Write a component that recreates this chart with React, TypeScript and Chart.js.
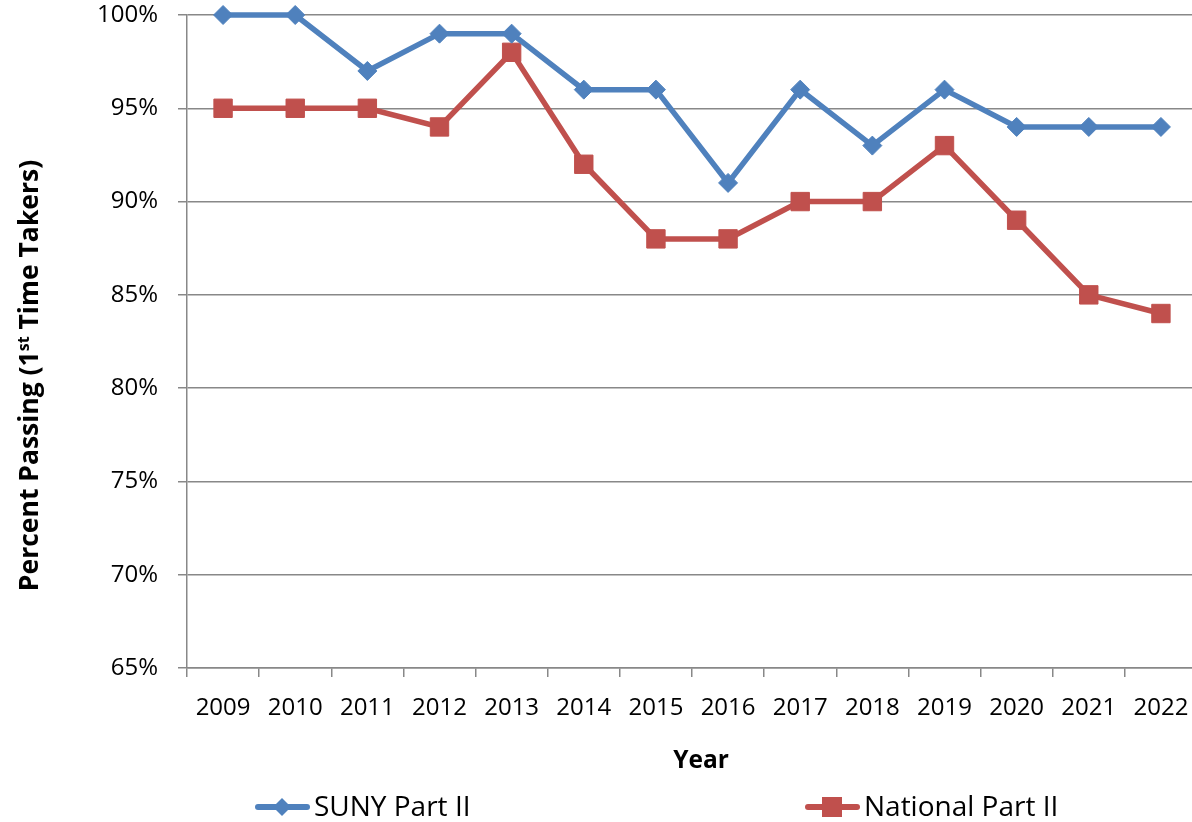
import React, { useEffect, useRef } from "react";
import { Chart, registerables } from "chart.js";

Chart.register(...registerables);

const years = ["2009", "2010", "2011", "2012", "2013", "2014", "2015", "2016", "2017", "2018", "2019", "2020", "2021", "2022"];
const sunyPartII = [100, 100, 97, 99, 99, 96, 96, 91, 96, 93, 96, 94, 94, 94];
const nationalPartII = [95, 95, 95, 94, 98, 92, 88, 88, 90, 90, 93, 89, 85, 84];
const yTicks = [65, 70, 75, 80, 85, 90, 95, 100];

const BLUE = "#4F81BD";
const RED = "#C0504D";
const GRID = "#888888";
const FONT = "'Open Sans', 'Noto Sans', sans-serif";

const overlayPlugin = {
  id: "overlay",
  afterDraw(chart: any) {
    const { ctx, chartArea } = chart;
    const cx = (chartArea.left + chartArea.right) / 2;
    const cy = (chartArea.top + chartArea.bottom) / 2;
    ctx.save();
    ctx.fillStyle = "#000";

    // X title
    ctx.font = `bold 24.5px ${FONT}`;
    ctx.textAlign = "center";
    ctx.textBaseline = "alphabetic";
    ctx.fillText("Year", cx + 9, chartArea.bottom + 100);

    // Y title with superscript
    const p1 = "Percent Passing (1";
    const sup = "st";
    const p2 = " Time Takers)";
    const big = `bold 26.5px ${FONT}`;
    const small = `bold 16px ${FONT}`;
    ctx.save();
    ctx.translate(38, cy + 34);
    ctx.rotate(-Math.PI / 2);
    ctx.textAlign = "left";
    ctx.font = big;
    const w1 = ctx.measureText(p1).width;
    const w3 = ctx.measureText(p2).width;
    ctx.font = small;
    const w2 = ctx.measureText(sup).width;
    const total = w1 + w2 + w3;
    let x = -total / 2;
    ctx.font = big;
    ctx.fillText(p1, x, 0);
    x += w1;
    ctx.font = small;
    ctx.fillText(sup, x, -9);
    x += w2;
    ctx.font = big;
    ctx.fillText(p2, x, 0);
    ctx.restore();

    // Legend
    const items = chart.data.datasets.map((ds: any, i: number) => ({
      label: ds.label,
      color: ds.borderColor,
      style: ds.pointStyle,
      x: chartArea.left + (i === 0 ? 68 : 618),
    }));
    const ly = 807;
    items.forEach((it: any) => {
      ctx.strokeStyle = it.color;
      ctx.lineWidth = 6;
      ctx.lineCap = "round";
      ctx.beginPath();
      ctx.moveTo(it.x + 3, ly);
      ctx.lineTo(it.x + 52, ly);
      ctx.stroke();
      const mx = it.x + 27;
      ctx.fillStyle = it.color;
      ctx.beginPath();
      if (it.style === "rectRot") {
        ctx.moveTo(mx - 9, ly);
        ctx.lineTo(mx, ly - 9);
        ctx.lineTo(mx + 9, ly);
        ctx.lineTo(mx, ly + 9);
        ctx.closePath();
      } else {
        ctx.rect(mx - 10, ly - 10, 20, 20);
      }
      ctx.fill();
      ctx.fillStyle = "#000";
      ctx.font = `28px ${FONT}`;
      ctx.textAlign = "left";
      ctx.textBaseline = "alphabetic";
      ctx.fillText(it.label, it.x + 59, ly + 9);
    });
    ctx.restore();
  },
};

export default function App() {
  const ref = useRef<HTMLCanvasElement | null>(null);
  useEffect(() => {
    document.body.style.margin = "0";
    if (!ref.current) return;
    const chart = new Chart(ref.current, {
      type: "line",
      data: {
        labels: years,
        datasets: [
          {
            label: "SUNY Part II",
            data: sunyPartII,
            borderColor: BLUE,
            backgroundColor: BLUE,
            borderWidth: 5.5,
            pointStyle: "rectRot",
            pointRadius: 9.5,
            pointBorderWidth: 1,
            tension: 0,
            clip: false,
          },
          {
            label: "National Part II",
            data: nationalPartII,
            borderColor: RED,
            backgroundColor: RED,
            borderWidth: 5.5,
            pointStyle: "rect",
            pointRadius: 13,
            pointBorderWidth: 1,
            tension: 0,
            clip: false,
          },
        ],
      },
      options: {
        responsive: false,
        animation: false,
        layout: { autoPadding: false, padding: { left: 0, top: 15, right: 0, bottom: 0 } },
        plugins: {
          legend: { display: false },
          tooltip: { enabled: false },
        },
        scales: {
          x: {
            type: "category",
            offset: true,
            afterFit: (s: any) => {
              s.height = 154;
              s.paddingLeft = 0;
              s.paddingRight = 0;
            },
            grid: {
              offset: true,
              drawOnChartArea: false,
              tickLength: 9,
              color: GRID,
              lineWidth: 1.5,
            },
            border: { display: true, color: GRID, width: 1.5 },
            ticks: {
              color: "#000",
              font: { family: FONT, size: 24 },
              padding: 17,
              maxRotation: 0,
              autoSkip: false,
            },
          },
          y: {
            min: 65,
            max: 100,
            afterFit: (s: any) => {
              s.width = 187;
              s.paddingTop = 0;
              s.paddingBottom = 0;
            },
            afterBuildTicks: (s: any) => {
              s.ticks = yTicks.map((v) => ({ value: v }));
            },
            grid: {
              color: GRID,
              lineWidth: 1.5,
              tickLength: 9,
            },
            border: { display: true, color: GRID, width: 1.5 },
            ticks: {
              color: "#000",
              font: { family: FONT, size: 24 },
              padding: 20,
              callback: (v: any) => `${v}%`,
            },
          },
        },
      },
      plugins: [overlayPlugin],
    });
    return () => chart.destroy();
  }, []);
  return (
    <div style={{ width: 1192, height: 822, overflow: "hidden" }}>
      <canvas ref={ref} width={1197} height={822} style={{ display: "block" }} />
    </div>
  );
}
